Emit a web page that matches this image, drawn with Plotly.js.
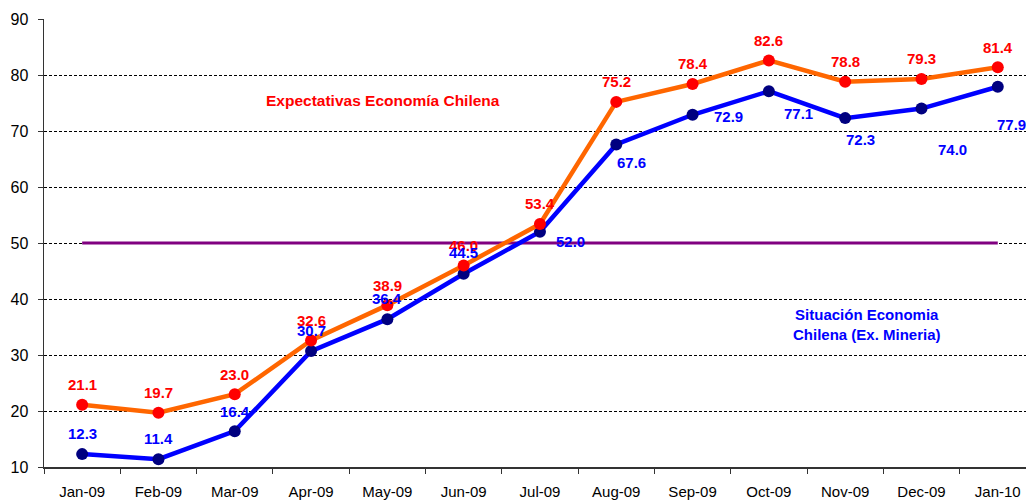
<!DOCTYPE html>
<html>
<head>
<meta charset="utf-8">
<script src="https://cdn.plot.ly/plotly-3.0.1.min.js"></script>
<style>html,body{margin:0;padding:0;background:#fff;}#chart{width:1026px;height:500px;}</style>
</head>
<body>
<div id="chart"></div>
<script>
const months = ["Jan-09","Feb-09","Mar-09","Apr-09","May-09","Jun-09","Jul-09","Aug-09","Sep-09","Oct-09","Nov-09","Dec-09","Jan-10"];
const expectativas = [21.1, 19.7, 23.0, 32.6, 38.9, 46.0, 53.4, 75.2, 78.4, 82.6, 78.8, 79.3, 81.4];
const situacion = [12.3, 11.4, 16.4, 30.7, 36.4, 44.5, 52.0, 67.6, 72.9, 77.1, 72.3, 74.0, 77.9];
const neutral = [50, 50, 50, 50, 50, 50, 50, 50, 50, 50, 50, 50, 50];
const yTicks = [10, 20, 30, 40, 50, 60, 70, 80, 90];

// label offsets (pixels) for the blue series labels
const blueOffX = [0, 0, 0, 0, 0, 0, 31, 15, 36, 30, 15, 31, 14];
const blueOffY = [21, 21, 20, 21, 21, 21, -10, -18, -2, -22, -21, -41, -38];

const font = "Arial, 'Liberation Sans', sans-serif";

const traces = [
  {x: months, y: neutral, type: "scatter", mode: "lines",
   line: {color: "#800080", width: 3}, hoverinfo: "skip"},
  {x: months, y: situacion, type: "scatter", mode: "lines+markers",
   line: {color: "#0000FF", width: 4.5},
   marker: {color: "#000080", size: 12}},
  {x: months, y: expectativas, type: "scatter", mode: "lines+markers",
   line: {color: "#FF6600", width: 4.5},
   marker: {color: "#FF0000", size: 12}}
];

const annotations = [];
months.forEach((m, i) => {
  annotations.push({x: m, y: expectativas[i], text: "<b>" + expectativas[i].toFixed(1) + "</b>",
    showarrow: false, yshift: 20, font: {family: font, size: 15, color: "#FF0000"}});
});
months.forEach((m, i) => {
  annotations.push({x: m, y: situacion[i], text: "<b>" + situacion[i].toFixed(1) + "</b>",
    showarrow: false, xshift: blueOffX[i], yshift: blueOffY[i],
    font: {family: font, size: 15, color: "#0000FF"}});
});
annotations.push({xref: "paper", yref: "paper", x: 0.345, y: 0.817, xanchor: "center", yanchor: "middle",
  text: "<b>Expectativas Economía Chilena</b>",
  showarrow: false, font: {family: font, size: 15.5, color: "#FF0000"}});
annotations.push({xref: "paper", yref: "paper", x: 0.838, y: 0.318, xanchor: "center", yanchor: "middle",
  text: "<b>Situación Economia<br>Chilena (Ex. Mineria)</b>",
  showarrow: false, align: "center", font: {family: font, size: 15, color: "#0000FF"}});

const layout = {
  width: 1026, height: 500,
  margin: {l: 44, r: 0, t: 19, b: 33},
  paper_bgcolor: "#fff", plot_bgcolor: "#fff",
  showlegend: false,
  font: {family: font, color: "#000"},
  xaxis: {
    type: "category", range: [-0.5, 12.37],
    tickson: "boundaries", ticks: "outside", ticklen: 5, tickcolor: "#333",
    showline: true, linecolor: "#333", linewidth: 1.5,
    showgrid: false, ticklabelstandoff: 10,
    tickfont: {family: font, size: 15, color: "#000"}
  },
  yaxis: {
    range: [10, 90], tickvals: yTicks, ticks: "outside", ticklen: 5, tickcolor: "#333",
    showline: true, linecolor: "#333", linewidth: 1.5,
    showgrid: true, gridcolor: "#000", gridwidth: 1, griddash: "3px,2px",
    zeroline: false, ticklabelstandoff: 6,
    tickfont: {family: font, size: 16, color: "#000"}
  },
  annotations: annotations
};

Plotly.newPlot("chart", traces, layout, {displayModeBar: false, staticPlot: true});
</script>
</body>
</html>
